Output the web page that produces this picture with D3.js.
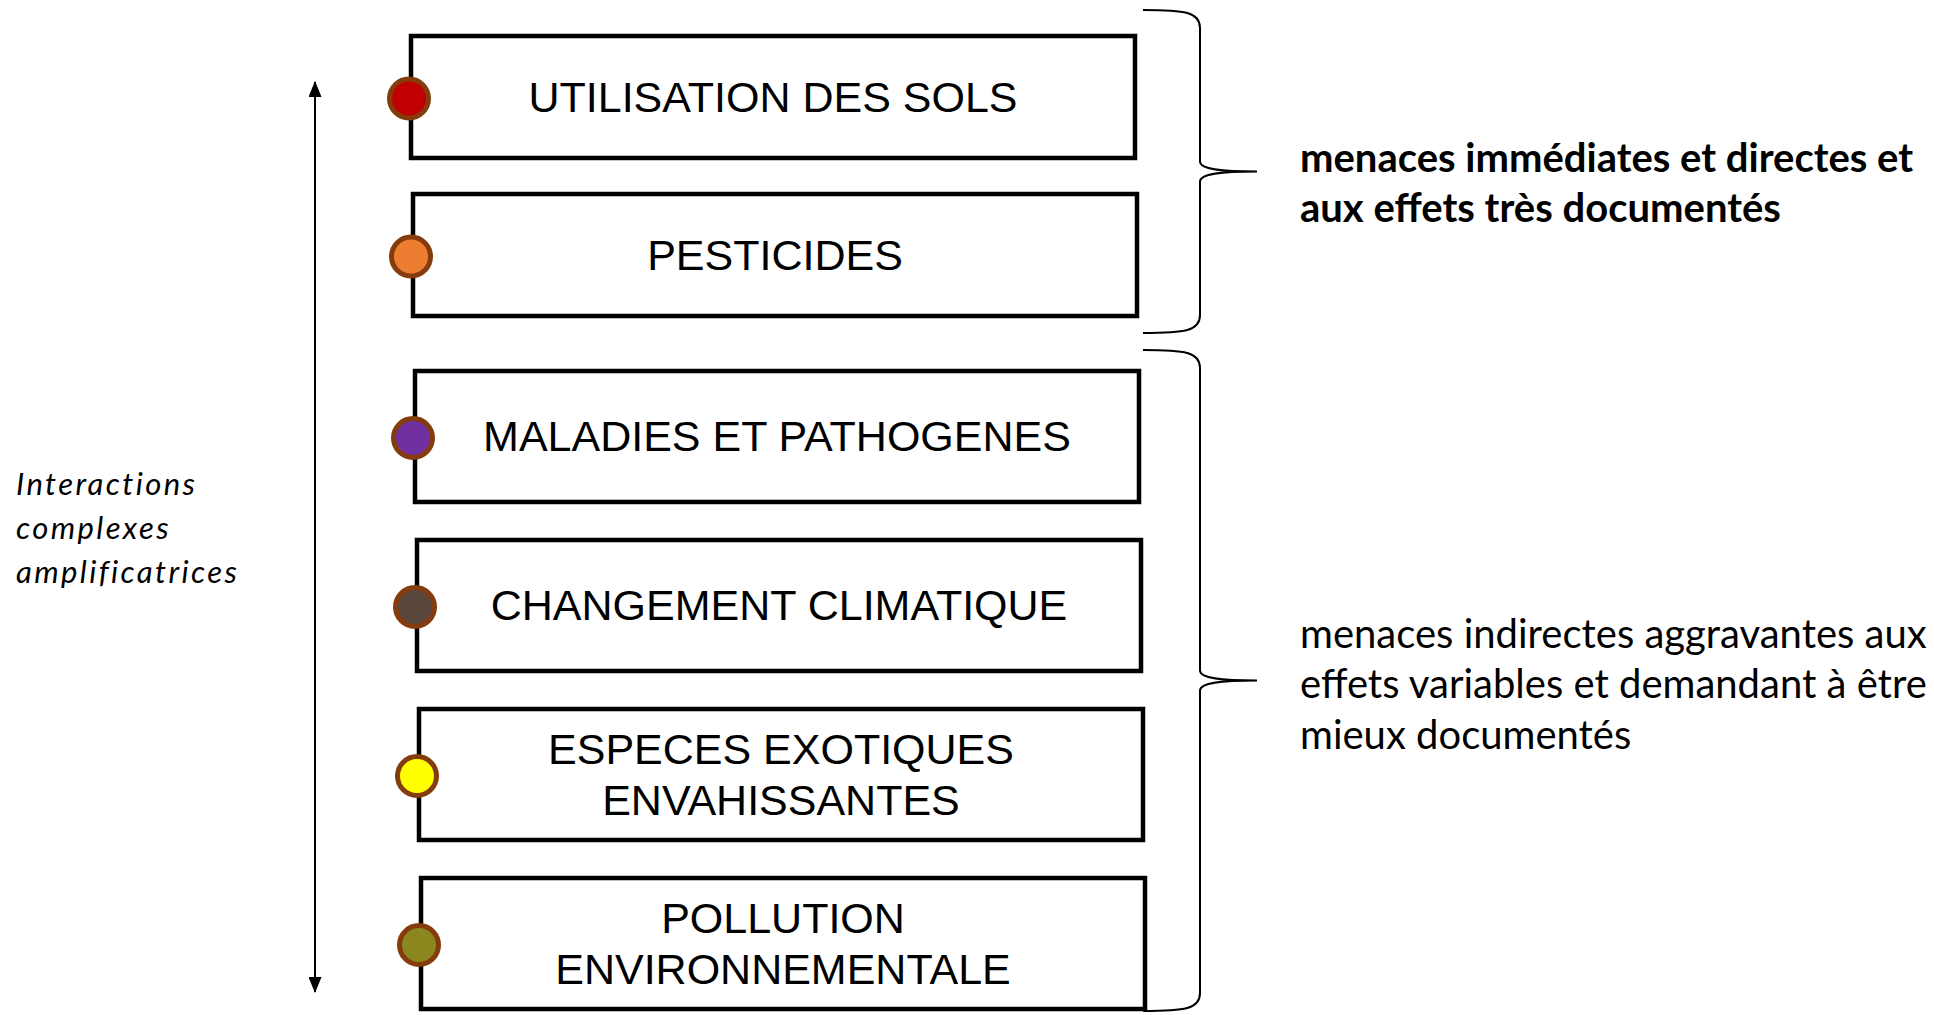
<!DOCTYPE html>
<html>
<head>
<meta charset="utf-8">
<script src="https://cdn.jsdelivr.net/npm/d3@7"></script>
<style>
  body { margin: 0; background: #fff; }
  svg { display: block; }
</style>
</head>
<body>
<script>
// threats, top to bottom
var threats = [
  "UTILISATION DES SOLS",
  "PESTICIDES",
  "MALADIES ET PATHOGENES",
  "CHANGEMENT CLIMATIQUE",
  "ESPECES EXOTIQUES\nENVAHISSANTES",
  "POLLUTION\nENVIRONNEMENTALE"
];
var threatColors = ["#C00000", "#ED7D31", "#7030A0", "#5A463A", "#FFFF00", "#8C861F"];
var threatGroup = ["direct", "direct", "indirect", "indirect", "indirect", "indirect"];

var groupNames = ["direct", "indirect"];
var groupTexts = [
  ["menaces immédiates et directes et", "aux effets très documentés"],
  ["menaces indirectes aggravantes aux", "effets variables et demandant à être", "mieux documentés"]
];
var sideLabel = ["Interactions", "complexes", "amplificatrices"];

// layout
var W = 1934, H = 1015;
var boxWidth = 724;
var boxLeft = d3.scaleLinear().domain([0, threats.length - 1]).range([411, 421]); // boxes drift right a bit
var groupRange = {direct: [36, 316], indirect: [371, 1009]};
var groupPad = {direct: 0.228, indirect: 0.225};
var braceRange = {direct: [10, 333], indirect: [350, 1011]};
var textOffset = {direct: 25.5, indirect: 17.5};
var braceX = 1143, braceW = 114;
var arrowX = 315, arrowTop = 82, arrowBottom = 992;

var svg = d3.select("body").append("svg")
  .attr("width", W)
  .attr("height", H);

// one band scale per group (the two groups have different spacing)
var yScales = {};
groupNames.forEach(function(g) {
  var members = threats.filter(function(t, i) { return threatGroup[i] === g; });
  yScales[g] = d3.scaleBand()
    .domain(members)
    .range(groupRange[g])
    .paddingInner(groupPad[g]);
});

var rows = threats.map(function(t, i) {
  var ys = yScales[threatGroup[i]];
  return {label: t, color: threatColors[i], group: threatGroup[i],
          x: boxLeft(i), y: ys(t), h: ys.bandwidth()};
});

var box = svg.selectAll("g.threat")
  .data(rows)
  .enter()
  .append("g")
  .attr("class", "threat");

box.append("rect")
  .attr("x", function(d) { return d.x; })
  .attr("y", function(d) { return d.y; })
  .attr("width", boxWidth)
  .attr("height", function(d) { return d.h; })
  .attr("fill", "#fff")
  .attr("stroke", "#000")
  .attr("stroke-width", 4.5);

box.append("circle")
  .attr("cx", function(d) { return d.x - 2; })
  .attr("cy", function(d) { return d.y + d.h / 2 + 1.5; })
  .attr("r", 19.5)
  .attr("fill", function(d) { return d.color; })
  .attr("stroke", "#843C0C")
  .attr("stroke-width", 5);

box.append("text")
  .attr("text-anchor", "middle")
  .style("font-family", "'Liberation Sans', Arial, sans-serif")
  .style("font-size", "43px")
  .attr("fill", "#000")
  .each(function(d) {
    var lines = d.label.split("\n");
    var first = d.y + d.h / 2 + 15 - (lines.length - 1) * 25.5;
    d3.select(this).selectAll("tspan")
      .data(lines)
      .enter()
      .append("tspan")
      .attr("x", d.x + boxWidth / 2)
      .attr("y", function(l, i) { return first + i * 51; })
      .text(function(l) { return l; });
  });

// braces
function bracePath(y0, y1) {
  var xm = braceX + braceW / 2, xt = braceX + braceW, mid = (y0 + y1) / 2;
  return "M" + braceX + "," + y0 +
    "C" + (braceX + 42) + "," + y0 + " " + xm + "," + (y0 + 2) + " " + xm + "," + (y0 + 18) +
    "L" + xm + "," + (mid - 10) +
    "C" + xm + "," + (mid - 2) + " " + (xm + 22) + "," + mid + " " + xt + "," + mid +
    "C" + (xm + 22) + "," + mid + " " + xm + "," + (mid + 2) + " " + xm + "," + (mid + 10) +
    "L" + xm + "," + (y1 - 18) +
    "C" + xm + "," + (y1 - 2) + " " + (braceX + 42) + "," + y1 + " " + braceX + "," + y1;
}

svg.selectAll("path.brace")
  .data(groupNames)
  .enter()
  .append("path")
  .attr("class", "brace")
  .attr("d", function(g) { return bracePath(braceRange[g][0], braceRange[g][1]); })
  .attr("fill", "none")
  .attr("stroke", "#000")
  .attr("stroke-width", 2);

svg.selectAll("text.group")
  .data(groupNames)
  .enter()
  .append("text")
  .attr("class", "group")
  .style("font-family", "Lato, 'Open Sans', sans-serif")
  .style("font-size", "40px")
  .style("font-weight", function(g) { return g === "direct" ? "bold" : "normal"; })
  .attr("fill", "#000")
  .each(function(g, gi) {
    var lines = groupTexts[gi];
    var mid = (braceRange[g][0] + braceRange[g][1]) / 2;
    var step = g === "direct" ? 50 : 50.5;
    var first = mid + textOffset[g] - (lines.length - 1) * step / 2;
    d3.select(this).selectAll("tspan")
      .data(lines)
      .enter()
      .append("tspan")
      .attr("x", 1300)
      .attr("y", function(l, i) { return first + i * step; })
      .text(function(l) { return l; });
  });

// double arrow on the left
var defs = svg.append("defs");
defs.append("marker")
  .attr("id", "head")
  .attr("viewBox", "0 0 16 13")
  .attr("refX", 15)
  .attr("refY", 6.5)
  .attr("markerWidth", 16)
  .attr("markerHeight", 13)
  .attr("markerUnits", "userSpaceOnUse")
  .attr("orient", "auto-start-reverse")
  .append("path")
  .attr("d", "M0,0L16,6.5L0,13Z")
  .attr("fill", "#000");

svg.append("line")
  .attr("x1", arrowX)
  .attr("x2", arrowX)
  .attr("y1", arrowTop)
  .attr("y2", arrowBottom)
  .attr("stroke", "#000")
  .attr("stroke-width", 2)
  .attr("marker-start", "url(#head)")
  .attr("marker-end", "url(#head)");

var arrowMid = (arrowTop + arrowBottom) / 2;
svg.append("text")
  .style("font-family", "Lato, 'Open Sans', sans-serif")
  .style("font-style", "italic")
  .style("font-size", "31px")
  .style("letter-spacing", "2.4px")
  .attr("fill", "#000")
  .selectAll("tspan")
  .data(sideLabel)
  .enter()
  .append("tspan")
  .attr("x", 16)
  .attr("y", function(l, i) { return arrowMid + 2 + (i - 1) * 44; })
  .text(function(l) { return l; });
</script>
</body>
</html>
